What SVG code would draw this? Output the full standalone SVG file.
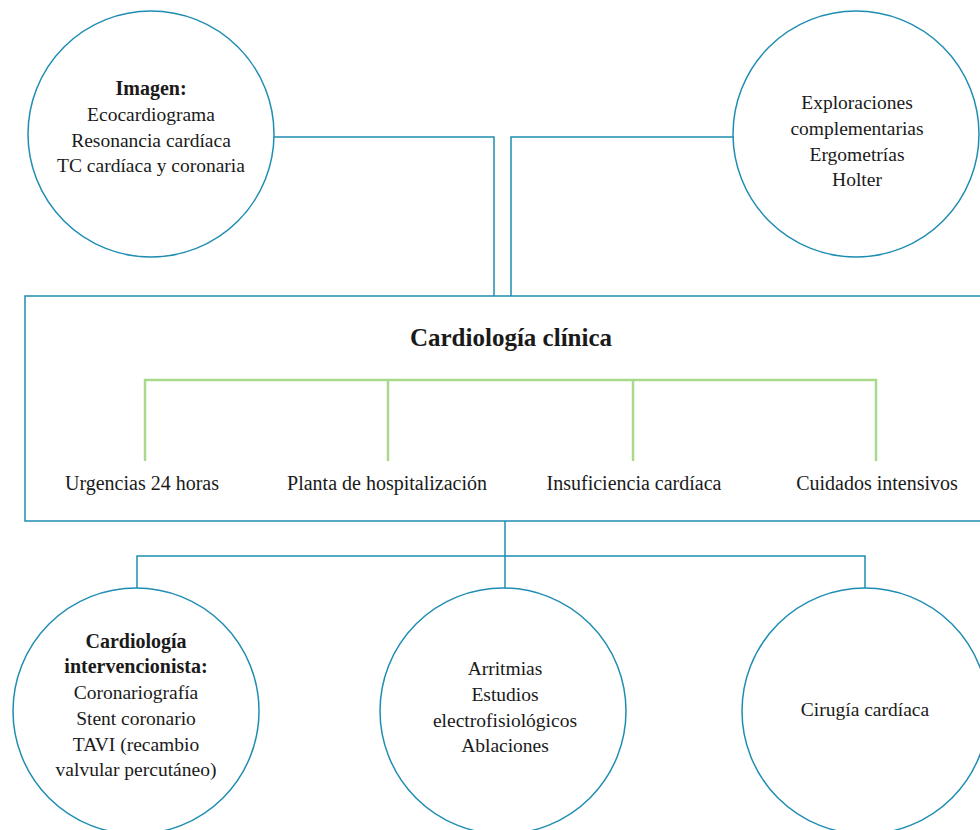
<svg xmlns="http://www.w3.org/2000/svg" width="980" height="830" viewBox="0 0 980 830">
<style>
.c{fill:#fff;stroke:#1f8db3;stroke-width:1.5}
.ln{fill:none;stroke:#1f8db3;stroke-width:1.5}
.g{fill:none;stroke:#a9d98b;stroke-width:2.5}
text{font-family:"Liberation Serif","DejaVu Serif",serif;font-size:19.5px;fill:#1a1a1a;text-anchor:middle}
.b{font-weight:bold;font-size:20px}
.l{font-size:20px}
.t{font-weight:bold;font-size:25px}
</style>
<rect width="980" height="830" fill="#fff"/>
<g id="connectors">
<polyline class="ln" points="274,137 494,137 494,296"/>
<polyline class="ln" points="733,137 511,137 511,296"/>
<line class="ln" x1="505" y1="521" x2="505" y2="589"/>
<polyline class="ln" points="137,589 137,556 865,556 865,589"/>
</g>
<g id="imagen">
<circle class="c" cx="151" cy="134" r="123"/>
<text x="151" y="95" class="b">Imagen:</text>
<text x="151" y="121">Ecocardiograma</text>
<text x="151" y="147">Resonancia cardíaca</text>
<text x="151" y="172">TC cardíaca y coronaria</text>
</g>
<g id="exploraciones">
<circle class="c" cx="856" cy="134" r="123"/>
<text x="857" y="109">Exploraciones</text>
<text x="857" y="135">complementarias</text>
<text x="857" y="161">Ergometrías</text>
<text x="857" y="186">Holter</text>
</g>
<g id="clinica">
<rect x="25" y="296" width="970" height="225" fill="#fff" stroke="#1f8db3" stroke-width="1.5"/>
<text x="511" y="346" class="t">Cardiología clínica</text>
<polyline class="g" points="145,461 145,380 876,380 876,461"/>
<line class="g" x1="388" y1="380" x2="388" y2="461"/>
<line class="g" x1="633" y1="380" x2="633" y2="461"/>
<text x="142" y="490" class="l">Urgencias 24 horas</text>
<text x="387" y="490" class="l">Planta de hospitalización</text>
<text x="634" y="490" class="l">Insuficiencia cardíaca</text>
<text x="877" y="490" class="l">Cuidados intensivos</text>
</g>
<g id="intervencionista">
<circle class="c" cx="136" cy="711" r="123"/>
<text x="136" y="648" class="b">Cardiología</text>
<text x="136" y="673" class="b">intervencionista:</text>
<text x="136" y="699">Coronariografía</text>
<text x="136" y="725">Stent coronario</text>
<text x="136" y="751">TAVI (recambio</text>
<text x="136" y="776">valvular percutáneo)</text>
</g>
<g id="arritmias">
<circle class="c" cx="503" cy="711" r="123"/>
<text x="505" y="675">Arritmias</text>
<text x="505" y="701">Estudios</text>
<text x="505" y="727">electrofisiológicos</text>
<text x="505" y="752">Ablaciones</text>
</g>
<g id="cirugia">
<circle class="c" cx="865" cy="711" r="123"/>
<text x="865" y="716">Cirugía cardíaca</text>
</g>
</svg>
